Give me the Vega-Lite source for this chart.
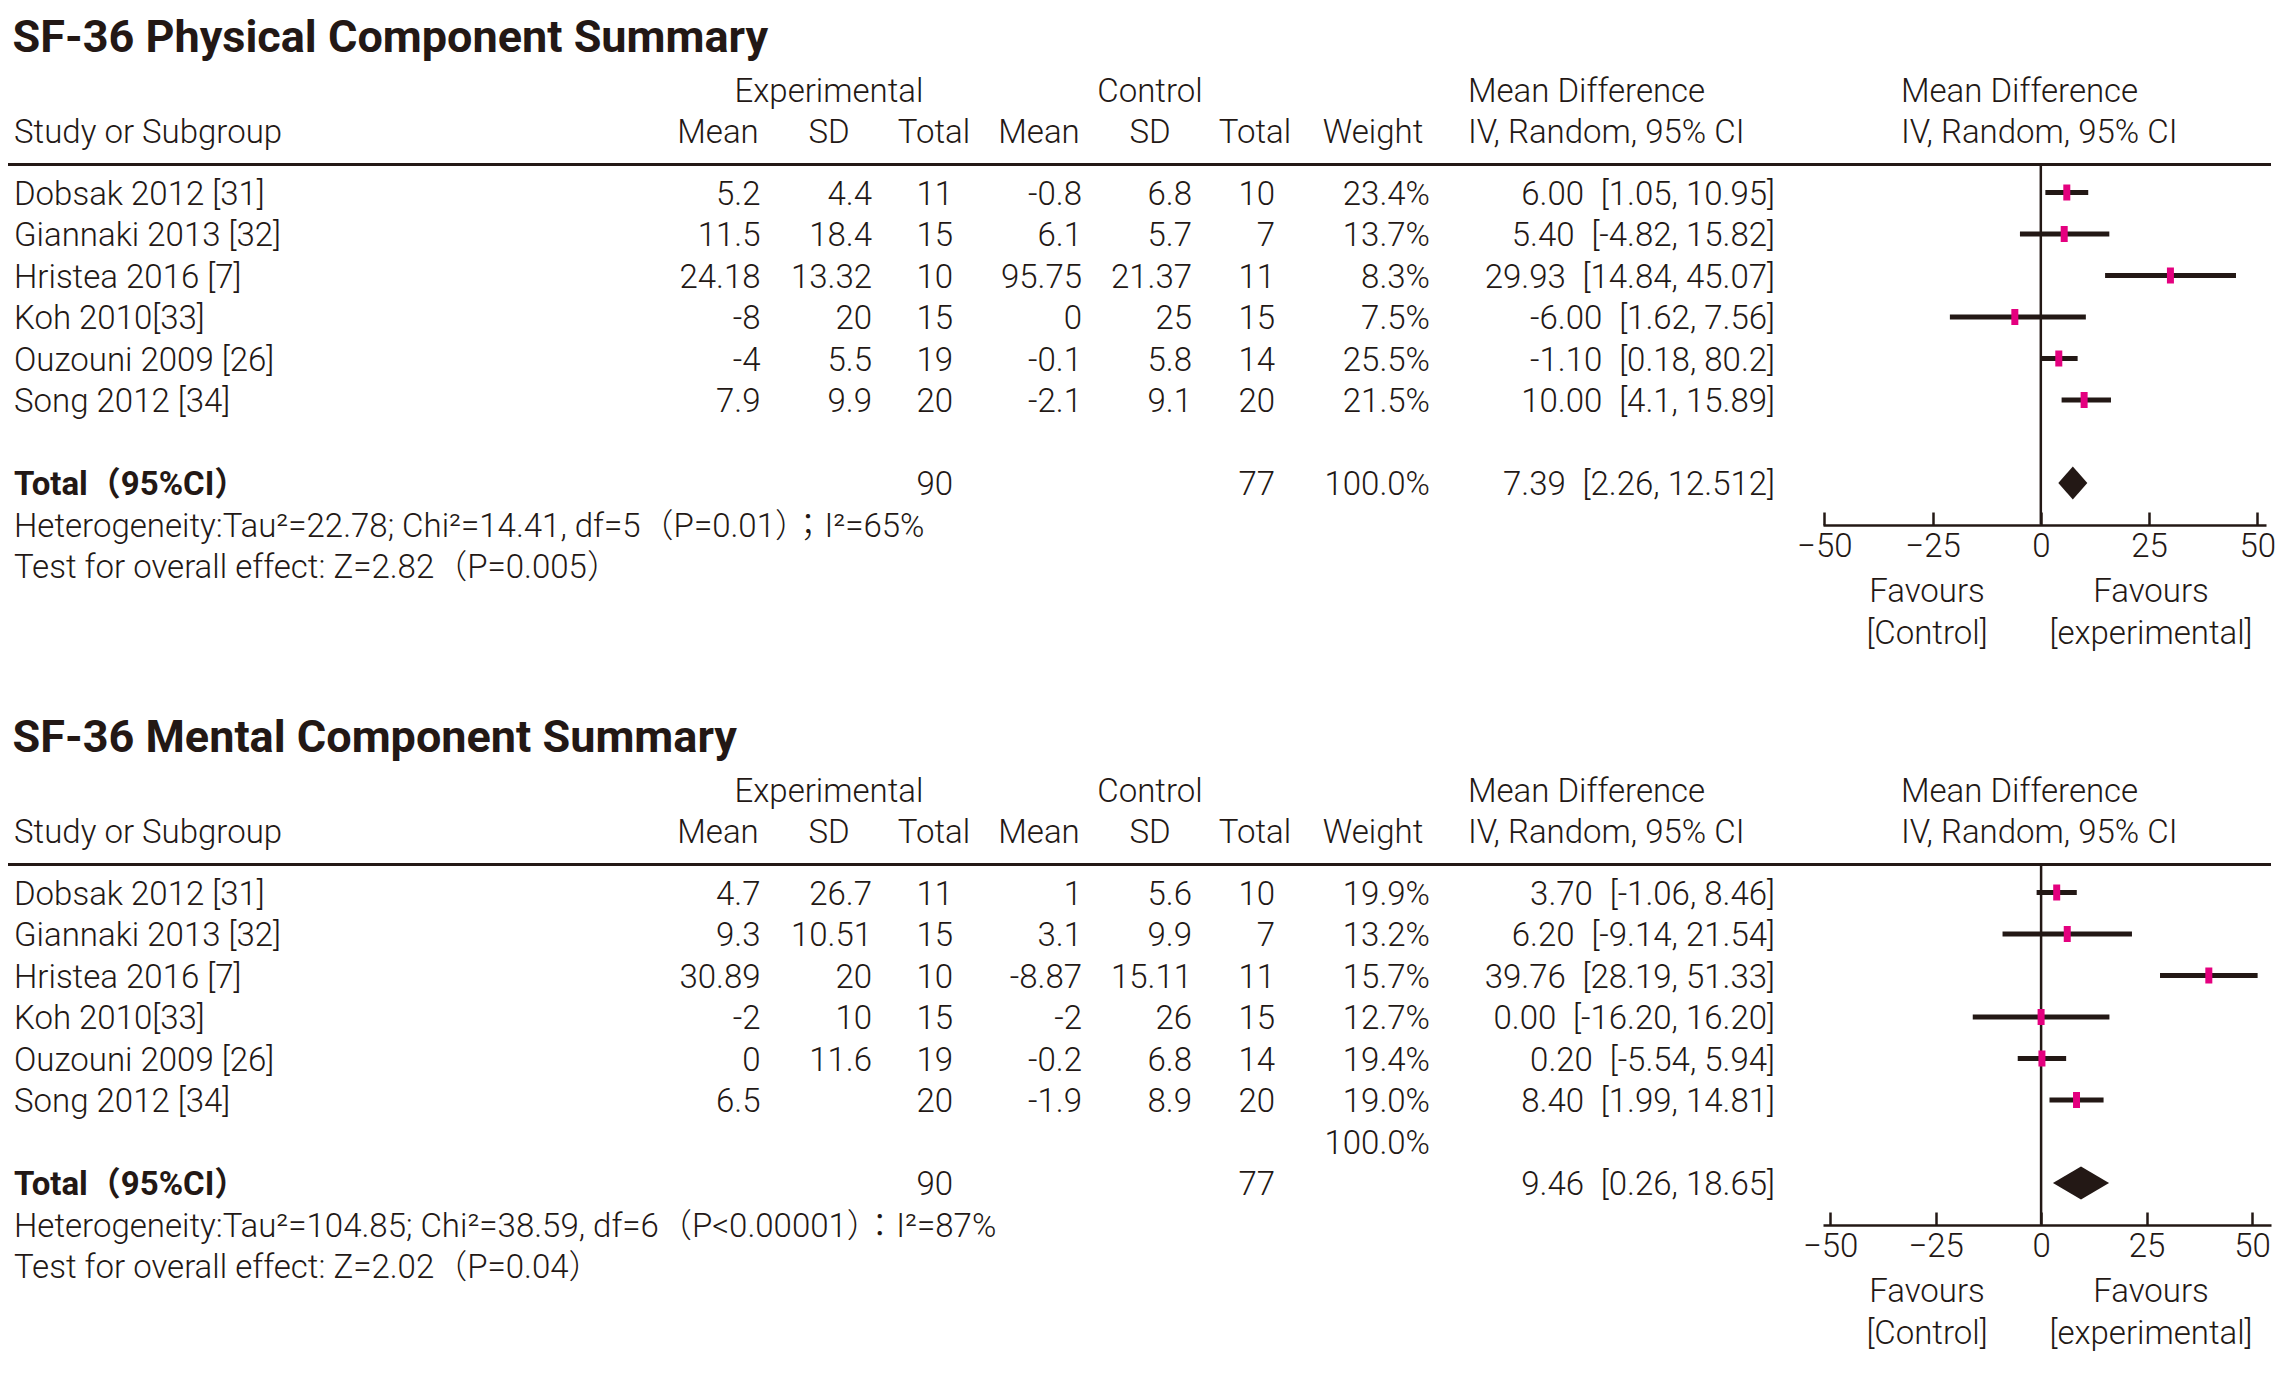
{
  "$schema": "https://vega.github.io/schema/vega-lite/v6.json",
  "background": "white",
  "padding": {"left": 6, "top": 16, "right": 0, "bottom": 0},
  "bounds": "flush",
  "spacing": 238,
  "config": {
    "view": {"stroke": null},
    "text": {"font": "Roboto, 'Noto Sans CJK JP', sans-serif", "fontSize": 33, "fontWeight": 300, "color": "#231815", "baseline": "middle", "dy": 2}
  },
  "datasets": {
    "headers": [
      {"row": 1, "col": 3, "label": "Experimental"},
      {"row": 1, "col": 6, "label": "Control"},
      {"row": 1, "col": 9, "label": "Mean Difference"},
      {"row": 1, "col": 10, "label": "Mean Difference"},
      {"row": 2, "col": 1, "label": "Study or Subgroup"},
      {"row": 2, "col": 2, "label": "Mean"},
      {"row": 2, "col": 3, "label": "SD"},
      {"row": 2, "col": 4, "label": "Total"},
      {"row": 2, "col": 5, "label": "Mean"},
      {"row": 2, "col": 6, "label": "SD"},
      {"row": 2, "col": 7, "label": "Total"},
      {"row": 2, "col": 8, "label": "Weight"},
      {"row": 2, "col": 9, "label": "IV, Random, 95% CI"},
      {"row": 2, "col": 10, "label": "IV, Random, 95% CI"}
    ],
    "favours": [
      {"side": -1, "label": "Favours\n[Control]"},
      {"side": 1, "label": "Favours\n[experimental]"}
    ],
    "pcs": [
      {"row": 3, "study": "Dobsak 2012 [31]", "e_mean": 5.2, "e_sd": 4.4, "e_n": 11, "c_mean": -0.8, "c_sd": 6.8, "c_n": 10, "weight": "23.4%", "md_label": "6.00\u2002[1.05, 10.95]", "md": 6.0, "lo": 1.05, "hi": 10.95},
      {"row": 4, "study": "Giannaki 2013 [32]", "e_mean": 11.5, "e_sd": 18.4, "e_n": 15, "c_mean": 6.1, "c_sd": 5.7, "c_n": 7, "weight": "13.7%", "md_label": "5.40\u2002[-4.82, 15.82]", "md": 5.4, "lo": -4.82, "hi": 15.82},
      {"row": 5, "study": "Hristea 2016 [7]", "e_mean": 24.18, "e_sd": 13.32, "e_n": 10, "c_mean": 95.75, "c_sd": 21.37, "c_n": 11, "weight": "8.3%", "md_label": "29.93\u2002[14.84, 45.07]", "md": 29.93, "lo": 14.84, "hi": 45.07},
      {"row": 6, "study": "Koh 2010[33]", "e_mean": -8, "e_sd": 20, "e_n": 15, "c_mean": 0, "c_sd": 25, "c_n": 15, "weight": "7.5%", "md_label": "-6.00\u2002[1.62, 7.56]", "md": -6.0, "lo": -21.0, "hi": 10.4},
      {"row": 7, "study": "Ouzouni 2009 [26]", "e_mean": -4, "e_sd": 5.5, "e_n": 19, "c_mean": -0.1, "c_sd": 5.8, "c_n": 14, "weight": "25.5%", "md_label": "-1.10\u2002[0.18, 80.2]", "md": 4.15, "lo": 0.2, "hi": 8.5},
      {"row": 8, "study": "Song 2012 [34]", "e_mean": 7.9, "e_sd": 9.9, "e_n": 20, "c_mean": -2.1, "c_sd": 9.1, "c_n": 20, "weight": "21.5%", "md_label": "10.00\u2002[4.1, 15.89]", "md": 10.0, "lo": 4.8, "hi": 16.2},
      {"row": 10, "summary": "Total（95%CI）", "e_n": 90, "c_n": 77, "weight": "100.0%", "md_label": "7.39\u2002[2.26, 12.512]", "md": 7.39}
    ],
    "pcs_notes": [
      {"row": 11, "label": "Heterogeneity:Tau²=22.78; Chi²=14.41, df=5（P=0.01）；I²=65%"},
      {"row": 12, "label": "Test for overall effect: Z=2.82（P=0.005）"}
    ],
    "mcs": [
      {"row": 3, "study": "Dobsak 2012 [31]", "e_mean": 4.7, "e_sd": 26.7, "e_n": 11, "c_mean": 1, "c_sd": 5.6, "c_n": 10, "weight": "19.9%", "md_label": "3.70\u2002[-1.06, 8.46]", "md": 3.7, "lo": -1.06, "hi": 8.46},
      {"row": 4, "study": "Giannaki 2013 [32]", "e_mean": 9.3, "e_sd": 10.51, "e_n": 15, "c_mean": 3.1, "c_sd": 9.9, "c_n": 7, "weight": "13.2%", "md_label": "6.20\u2002[-9.14, 21.54]", "md": 6.2, "lo": -9.14, "hi": 21.54},
      {"row": 5, "study": "Hristea 2016 [7]", "e_mean": 30.89, "e_sd": 20, "e_n": 10, "c_mean": -8.87, "c_sd": 15.11, "c_n": 11, "weight": "15.7%", "md_label": "39.76\u2002[28.19, 51.33]", "md": 39.76, "lo": 28.19, "hi": 51.33},
      {"row": 6, "study": "Koh 2010[33]", "e_mean": -2, "e_sd": 10, "e_n": 15, "c_mean": -2, "c_sd": 26, "c_n": 15, "weight": "12.7%", "md_label": "0.00\u2002[-16.20, 16.20]", "md": 0.0, "lo": -16.2, "hi": 16.2},
      {"row": 7, "study": "Ouzouni 2009 [26]", "e_mean": 0, "e_sd": 11.6, "e_n": 19, "c_mean": -0.2, "c_sd": 6.8, "c_n": 14, "weight": "19.4%", "md_label": "0.20\u2002[-5.54, 5.94]", "md": 0.2, "lo": -5.54, "hi": 5.94},
      {"row": 8, "study": "Song 2012 [34]", "e_mean": 6.5, "e_n": 20, "c_mean": -1.9, "c_sd": 8.9, "c_n": 20, "weight": "19.0%", "md_label": "8.40\u2002[1.99, 14.81]", "md": 8.4, "lo": 1.99, "hi": 14.81},
      {"row": 9, "weight": "100.0%"},
      {"row": 10, "summary": "Total（95%CI）", "e_n": 90, "c_n": 77, "md_label": "9.46\u2002[0.26, 18.65]", "md": 9.46}
    ],
    "mcs_notes": [
      {"row": 11, "label": "Heterogeneity:Tau²=104.85; Chi²=38.59, df=6（P<0.00001）：I²=87%"},
      {"row": 12, "label": "Test for overall effect: Z=2.02（P=0.04）"}
    ]
  },
  "vconcat": [
    {
      "title": {"text": "SF-36 Physical Component Summary", "anchor": "start", "dx": 6, "offset": -34, "baseline": "alphabetic", "font": "Roboto, sans-serif", "fontSize": 45, "fontWeight": "bold", "color": "#231815"},
      "width": 2263,
      "height": 462,
      "resolve": {"scale": {"x": "independent"}},
      "layer": [
        {"data": {"values": [{}]}, "mark": {"type": "rule", "strokeWidth": 3, "color": "#231815"},
         "encoding": {"y": {"datum": 2.55, "type": "quantitative", "scale": {"domain": [1, 2, 3, 12, 13], "range": [26.5, 67.5, 129.5, 503, 527], "zero": false, "nice": false}, "axis": null}}},
        {"data": {"values": [{}]}, "mark": {"type": "rule", "strokeWidth": 2.5, "color": "#231815"},
         "encoding": {
           "x": {"datum": 0, "type": "quantitative", "scale": {"domain": [-50.3, 52], "range": [1815, 2258], "zero": false, "nice": false},
                 "axis": {"orient": "bottom", "values": [-50, -25, 0, 25, 50], "tickSize": -13, "tickWidth": 2.5, "tickColor": "#231815", "domainColor": "#231815", "domainWidth": 2.7, "labelFont": "Roboto, sans-serif", "labelFontSize": 33, "labelFontWeight": 300, "labelColor": "#231815", "labelPadding": 18, "labelFlush": false, "labelOverlap": false, "grid": false, "title": null}},
           "y": {"datum": 2.55, "type": "quantitative", "scale": {"domain": [1, 2, 3, 12, 13], "range": [26.5, 67.5, 129.5, 503, 527], "zero": false, "nice": false}, "axis": null},
           "y2": {"datum": 11}
         }},
        {"data": {"name": "pcs"}, "transform": [{"filter": {"field": "lo", "valid": true}}],
         "mark": {"type": "rule", "strokeWidth": 5, "color": "#231815"},
         "encoding": {
           "x": {"field": "lo", "type": "quantitative", "scale": {"domain": [-50.3, 52], "range": [1815, 2258], "zero": false, "nice": false}, "axis": null},
           "x2": {"field": "hi"},
           "y": {"field": "row", "type": "quantitative", "scale": {"domain": [1, 2, 3, 12, 13], "range": [26.5, 67.5, 129.5, 503, 527], "zero": false, "nice": false}, "axis": null}
         }},
        {"data": {"name": "pcs"}, "transform": [{"filter": "isValid(datum.study)"}],
         "mark": {"type": "tick", "orient": "vertical", "size": 16, "thickness": 7, "color": "#e4007f", "opacity": 1},
         "encoding": {
           "x": {"field": "md", "type": "quantitative", "scale": {"domain": [-50.3, 52], "range": [1815, 2258], "zero": false, "nice": false}, "axis": null},
           "y": {"field": "row", "type": "quantitative", "scale": {"domain": [1, 2, 3, 12, 13], "range": [26.5, 67.5, 129.5, 503, 527], "zero": false, "nice": false}, "axis": null}
         }},
        {"data": {"name": "pcs"}, "transform": [{"filter": "isValid(datum.summary)"}],
         "mark": {"type": "point", "filled": true, "shape": "M0,-1L0.88,0L0,1L-0.88,0Z", "size": 1089, "color": "#231815", "opacity": 1},
         "encoding": {
           "x": {"field": "md", "type": "quantitative", "scale": {"domain": [-50.3, 52], "range": [1815, 2258], "zero": false, "nice": false}, "axis": null},
           "y": {"field": "row", "type": "quantitative", "scale": {"domain": [1, 2, 3, 12, 13], "range": [26.5, 67.5, 129.5, 503, 527], "zero": false, "nice": false}, "axis": null}
         }},
        {"data": {"name": "headers"}, "transform": [{"filter": "datum.col >= 2 && datum.col <= 8"}],
         "mark": {"type": "text", "align": "center"},
         "encoding": {
           "x": {"field": "col", "type": "quantitative", "scale": {"domain": [2, 3, 4, 5, 6, 7, 8], "range": [710, 821, 926, 1031, 1142, 1247, 1365], "zero": false, "nice": false}, "axis": null},
           "y": {"field": "row", "type": "quantitative", "scale": {"domain": [1, 2, 3, 12, 13], "range": [26.5, 67.5, 129.5, 503, 527], "zero": false, "nice": false}, "axis": null},
           "text": {"field": "label", "type": "nominal"}
         }},
        {"data": {"name": "headers"}, "transform": [{"filter": "datum.col == 1 || datum.col >= 9"}],
         "mark": {"type": "text", "align": "left"},
         "encoding": {
           "x": {"field": "col", "type": "quantitative", "scale": {"domain": [1, 9, 10], "range": [6, 1460, 1893], "zero": false, "nice": false}, "axis": null},
           "y": {"field": "row", "type": "quantitative", "scale": {"domain": [1, 2, 3, 12, 13], "range": [26.5, 67.5, 129.5, 503, 527], "zero": false, "nice": false}, "axis": null},
           "text": {"field": "label", "type": "nominal"}
         }},
        {"data": {"name": "pcs"}, "transform": [{"filter": "isValid(datum.study)"}],
         "mark": {"type": "text", "align": "left"},
         "encoding": {
           "x": {"datum": 1, "type": "quantitative", "scale": {"domain": [1, 9, 10], "range": [6, 1460, 1893], "zero": false, "nice": false}, "axis": null},
           "y": {"field": "row", "type": "quantitative", "scale": {"domain": [1, 2, 3, 12, 13], "range": [26.5, 67.5, 129.5, 503, 527], "zero": false, "nice": false}, "axis": null},
           "text": {"field": "study", "type": "nominal"}
         }},
        {"data": {"name": "pcs"}, "transform": [{"filter": "isValid(datum.summary)"}],
         "mark": {"type": "text", "align": "left", "fontWeight": "bold"},
         "encoding": {
           "x": {"datum": 1, "type": "quantitative", "scale": {"domain": [1, 9, 10], "range": [6, 1460, 1893], "zero": false, "nice": false}, "axis": null},
           "y": {"field": "row", "type": "quantitative", "scale": {"domain": [1, 2, 3, 12, 13], "range": [26.5, 67.5, 129.5, 503, 527], "zero": false, "nice": false}, "axis": null},
           "text": {"field": "summary", "type": "nominal"}
         }},
        {"data": {"name": "pcs"}, "transform": [{"filter": {"field": "e_mean", "valid": true}}],
         "mark": {"type": "text", "align": "right"},
         "encoding": {
           "x": {"datum": 2, "type": "quantitative", "scale": {"domain": [2, 3, 4, 5, 6, 7, 8, 9], "range": [752.5, 864, 945, 1074, 1184, 1267, 1422, 1767], "zero": false, "nice": false}, "axis": null},
           "y": {"field": "row", "type": "quantitative", "scale": {"domain": [1, 2, 3, 12, 13], "range": [26.5, 67.5, 129.5, 503, 527], "zero": false, "nice": false}, "axis": null},
           "text": {"field": "e_mean", "type": "nominal"}
         }},
        {"data": {"name": "pcs"}, "transform": [{"filter": {"field": "e_sd", "valid": true}}],
         "mark": {"type": "text", "align": "right"},
         "encoding": {
           "x": {"datum": 3, "type": "quantitative", "scale": {"domain": [2, 3, 4, 5, 6, 7, 8, 9], "range": [752.5, 864, 945, 1074, 1184, 1267, 1422, 1767], "zero": false, "nice": false}, "axis": null},
           "y": {"field": "row", "type": "quantitative", "scale": {"domain": [1, 2, 3, 12, 13], "range": [26.5, 67.5, 129.5, 503, 527], "zero": false, "nice": false}, "axis": null},
           "text": {"field": "e_sd", "type": "nominal"}
         }},
        {"data": {"name": "pcs"}, "transform": [{"filter": {"field": "e_n", "valid": true}}],
         "mark": {"type": "text", "align": "right"},
         "encoding": {
           "x": {"datum": 4, "type": "quantitative", "scale": {"domain": [2, 3, 4, 5, 6, 7, 8, 9], "range": [752.5, 864, 945, 1074, 1184, 1267, 1422, 1767], "zero": false, "nice": false}, "axis": null},
           "y": {"field": "row", "type": "quantitative", "scale": {"domain": [1, 2, 3, 12, 13], "range": [26.5, 67.5, 129.5, 503, 527], "zero": false, "nice": false}, "axis": null},
           "text": {"field": "e_n", "type": "nominal"}
         }},
        {"data": {"name": "pcs"}, "transform": [{"filter": {"field": "c_mean", "valid": true}}],
         "mark": {"type": "text", "align": "right"},
         "encoding": {
           "x": {"datum": 5, "type": "quantitative", "scale": {"domain": [2, 3, 4, 5, 6, 7, 8, 9], "range": [752.5, 864, 945, 1074, 1184, 1267, 1422, 1767], "zero": false, "nice": false}, "axis": null},
           "y": {"field": "row", "type": "quantitative", "scale": {"domain": [1, 2, 3, 12, 13], "range": [26.5, 67.5, 129.5, 503, 527], "zero": false, "nice": false}, "axis": null},
           "text": {"field": "c_mean", "type": "nominal"}
         }},
        {"data": {"name": "pcs"}, "transform": [{"filter": {"field": "c_sd", "valid": true}}],
         "mark": {"type": "text", "align": "right"},
         "encoding": {
           "x": {"datum": 6, "type": "quantitative", "scale": {"domain": [2, 3, 4, 5, 6, 7, 8, 9], "range": [752.5, 864, 945, 1074, 1184, 1267, 1422, 1767], "zero": false, "nice": false}, "axis": null},
           "y": {"field": "row", "type": "quantitative", "scale": {"domain": [1, 2, 3, 12, 13], "range": [26.5, 67.5, 129.5, 503, 527], "zero": false, "nice": false}, "axis": null},
           "text": {"field": "c_sd", "type": "nominal"}
         }},
        {"data": {"name": "pcs"}, "transform": [{"filter": {"field": "c_n", "valid": true}}],
         "mark": {"type": "text", "align": "right"},
         "encoding": {
           "x": {"datum": 7, "type": "quantitative", "scale": {"domain": [2, 3, 4, 5, 6, 7, 8, 9], "range": [752.5, 864, 945, 1074, 1184, 1267, 1422, 1767], "zero": false, "nice": false}, "axis": null},
           "y": {"field": "row", "type": "quantitative", "scale": {"domain": [1, 2, 3, 12, 13], "range": [26.5, 67.5, 129.5, 503, 527], "zero": false, "nice": false}, "axis": null},
           "text": {"field": "c_n", "type": "nominal"}
         }},
        {"data": {"name": "pcs"}, "transform": [{"filter": "isValid(datum.weight)"}],
         "mark": {"type": "text", "align": "right"},
         "encoding": {
           "x": {"datum": 8, "type": "quantitative", "scale": {"domain": [2, 3, 4, 5, 6, 7, 8, 9], "range": [752.5, 864, 945, 1074, 1184, 1267, 1422, 1767], "zero": false, "nice": false}, "axis": null},
           "y": {"field": "row", "type": "quantitative", "scale": {"domain": [1, 2, 3, 12, 13], "range": [26.5, 67.5, 129.5, 503, 527], "zero": false, "nice": false}, "axis": null},
           "text": {"field": "weight", "type": "nominal"}
         }},
        {"data": {"name": "pcs"}, "transform": [{"filter": "isValid(datum.md_label)"}],
         "mark": {"type": "text", "align": "right"},
         "encoding": {
           "x": {"datum": 9, "type": "quantitative", "scale": {"domain": [2, 3, 4, 5, 6, 7, 8, 9], "range": [752.5, 864, 945, 1074, 1184, 1267, 1422, 1767], "zero": false, "nice": false}, "axis": null},
           "y": {"field": "row", "type": "quantitative", "scale": {"domain": [1, 2, 3, 12, 13], "range": [26.5, 67.5, 129.5, 503, 527], "zero": false, "nice": false}, "axis": null},
           "text": {"field": "md_label", "type": "nominal"}
         }},
        {"data": {"name": "pcs_notes"},
         "mark": {"type": "text", "align": "left"},
         "encoding": {
           "x": {"datum": 1, "type": "quantitative", "scale": {"domain": [1, 9, 10], "range": [6, 1460, 1893], "zero": false, "nice": false}, "axis": null},
           "y": {"field": "row", "type": "quantitative", "scale": {"domain": [1, 2, 3, 12, 13], "range": [26.5, 67.5, 129.5, 503, 527], "zero": false, "nice": false}, "axis": null},
           "text": {"field": "label", "type": "nominal"}
         }},
        {"data": {"name": "favours"},
         "mark": {"type": "text", "align": "center", "lineBreak": "\n", "lineHeight": 41.5},
         "encoding": {
           "x": {"field": "side", "type": "quantitative", "scale": {"domain": [-1, 1], "range": [1919, 2143], "zero": false, "nice": false}, "axis": null},
           "y": {"datum": 13, "type": "quantitative", "scale": {"domain": [1, 2, 3, 12, 13], "range": [26.5, 67.5, 129.5, 503, 527], "zero": false, "nice": false}, "axis": null},
           "text": {"field": "label", "type": "nominal"}
         }}
      ]
    },
    {
      "title": {"text": "SF-36 Mental Component Summary", "anchor": "start", "dx": 6, "offset": -34, "baseline": "alphabetic", "font": "Roboto, sans-serif", "fontSize": 45, "fontWeight": "bold", "color": "#231815"},
      "width": 2263,
      "height": 462,
      "resolve": {"scale": {"x": "independent"}},
      "layer": [
        {"data": {"values": [{}]}, "mark": {"type": "rule", "strokeWidth": 3, "color": "#231815"},
         "encoding": {"y": {"datum": 2.55, "type": "quantitative", "scale": {"domain": [1, 2, 3, 12, 13], "range": [26.5, 67.5, 129.5, 503, 527], "zero": false, "nice": false}, "axis": null}}},
        {"data": {"values": [{}]}, "mark": {"type": "rule", "strokeWidth": 2.5, "color": "#231815"},
         "encoding": {
           "x": {"datum": 0, "type": "quantitative", "scale": {"domain": [-51.7, 54.5], "range": [1815, 2263], "zero": false, "nice": false},
                 "axis": {"orient": "bottom", "values": [-50, -25, 0, 25, 50], "tickSize": -13, "tickWidth": 2.5, "tickColor": "#231815", "domainColor": "#231815", "domainWidth": 2.7, "labelFont": "Roboto, sans-serif", "labelFontSize": 33, "labelFontWeight": 300, "labelColor": "#231815", "labelPadding": 18, "labelFlush": false, "labelOverlap": false, "grid": false, "title": null}},
           "y": {"datum": 2.55, "type": "quantitative", "scale": {"domain": [1, 2, 3, 12, 13], "range": [26.5, 67.5, 129.5, 503, 527], "zero": false, "nice": false}, "axis": null},
           "y2": {"datum": 11}
         }},
        {"data": {"name": "mcs"}, "transform": [{"filter": {"field": "lo", "valid": true}}],
         "mark": {"type": "rule", "strokeWidth": 5, "color": "#231815"},
         "encoding": {
           "x": {"field": "lo", "type": "quantitative", "scale": {"domain": [-51.7, 54.5], "range": [1815, 2263], "zero": false, "nice": false}, "axis": null},
           "x2": {"field": "hi"},
           "y": {"field": "row", "type": "quantitative", "scale": {"domain": [1, 2, 3, 12, 13], "range": [26.5, 67.5, 129.5, 503, 527], "zero": false, "nice": false}, "axis": null}
         }},
        {"data": {"name": "mcs"}, "transform": [{"filter": "isValid(datum.study)"}],
         "mark": {"type": "tick", "orient": "vertical", "size": 16, "thickness": 7, "color": "#e4007f", "opacity": 1},
         "encoding": {
           "x": {"field": "md", "type": "quantitative", "scale": {"domain": [-51.7, 54.5], "range": [1815, 2263], "zero": false, "nice": false}, "axis": null},
           "y": {"field": "row", "type": "quantitative", "scale": {"domain": [1, 2, 3, 12, 13], "range": [26.5, 67.5, 129.5, 503, 527], "zero": false, "nice": false}, "axis": null}
         }},
        {"data": {"name": "mcs"}, "transform": [{"filter": "isValid(datum.summary)"}],
         "mark": {"type": "point", "filled": true, "shape": "M0,-1L1.7,0L0,1L-1.7,0Z", "size": 1089, "color": "#231815", "opacity": 1},
         "encoding": {
           "x": {"field": "md", "type": "quantitative", "scale": {"domain": [-51.7, 54.5], "range": [1815, 2263], "zero": false, "nice": false}, "axis": null},
           "y": {"field": "row", "type": "quantitative", "scale": {"domain": [1, 2, 3, 12, 13], "range": [26.5, 67.5, 129.5, 503, 527], "zero": false, "nice": false}, "axis": null}
         }},
        {"data": {"name": "headers"}, "transform": [{"filter": "datum.col >= 2 && datum.col <= 8"}],
         "mark": {"type": "text", "align": "center"},
         "encoding": {
           "x": {"field": "col", "type": "quantitative", "scale": {"domain": [2, 3, 4, 5, 6, 7, 8], "range": [710, 821, 926, 1031, 1142, 1247, 1365], "zero": false, "nice": false}, "axis": null},
           "y": {"field": "row", "type": "quantitative", "scale": {"domain": [1, 2, 3, 12, 13], "range": [26.5, 67.5, 129.5, 503, 527], "zero": false, "nice": false}, "axis": null},
           "text": {"field": "label", "type": "nominal"}
         }},
        {"data": {"name": "headers"}, "transform": [{"filter": "datum.col == 1 || datum.col >= 9"}],
         "mark": {"type": "text", "align": "left"},
         "encoding": {
           "x": {"field": "col", "type": "quantitative", "scale": {"domain": [1, 9, 10], "range": [6, 1460, 1893], "zero": false, "nice": false}, "axis": null},
           "y": {"field": "row", "type": "quantitative", "scale": {"domain": [1, 2, 3, 12, 13], "range": [26.5, 67.5, 129.5, 503, 527], "zero": false, "nice": false}, "axis": null},
           "text": {"field": "label", "type": "nominal"}
         }},
        {"data": {"name": "mcs"}, "transform": [{"filter": "isValid(datum.study)"}],
         "mark": {"type": "text", "align": "left"},
         "encoding": {
           "x": {"datum": 1, "type": "quantitative", "scale": {"domain": [1, 9, 10], "range": [6, 1460, 1893], "zero": false, "nice": false}, "axis": null},
           "y": {"field": "row", "type": "quantitative", "scale": {"domain": [1, 2, 3, 12, 13], "range": [26.5, 67.5, 129.5, 503, 527], "zero": false, "nice": false}, "axis": null},
           "text": {"field": "study", "type": "nominal"}
         }},
        {"data": {"name": "mcs"}, "transform": [{"filter": "isValid(datum.summary)"}],
         "mark": {"type": "text", "align": "left", "fontWeight": "bold"},
         "encoding": {
           "x": {"datum": 1, "type": "quantitative", "scale": {"domain": [1, 9, 10], "range": [6, 1460, 1893], "zero": false, "nice": false}, "axis": null},
           "y": {"field": "row", "type": "quantitative", "scale": {"domain": [1, 2, 3, 12, 13], "range": [26.5, 67.5, 129.5, 503, 527], "zero": false, "nice": false}, "axis": null},
           "text": {"field": "summary", "type": "nominal"}
         }},
        {"data": {"name": "mcs"}, "transform": [{"filter": {"field": "e_mean", "valid": true}}],
         "mark": {"type": "text", "align": "right"},
         "encoding": {
           "x": {"datum": 2, "type": "quantitative", "scale": {"domain": [2, 3, 4, 5, 6, 7, 8, 9], "range": [752.5, 864, 945, 1074, 1184, 1267, 1422, 1767], "zero": false, "nice": false}, "axis": null},
           "y": {"field": "row", "type": "quantitative", "scale": {"domain": [1, 2, 3, 12, 13], "range": [26.5, 67.5, 129.5, 503, 527], "zero": false, "nice": false}, "axis": null},
           "text": {"field": "e_mean", "type": "nominal"}
         }},
        {"data": {"name": "mcs"}, "transform": [{"filter": {"field": "e_sd", "valid": true}}],
         "mark": {"type": "text", "align": "right"},
         "encoding": {
           "x": {"datum": 3, "type": "quantitative", "scale": {"domain": [2, 3, 4, 5, 6, 7, 8, 9], "range": [752.5, 864, 945, 1074, 1184, 1267, 1422, 1767], "zero": false, "nice": false}, "axis": null},
           "y": {"field": "row", "type": "quantitative", "scale": {"domain": [1, 2, 3, 12, 13], "range": [26.5, 67.5, 129.5, 503, 527], "zero": false, "nice": false}, "axis": null},
           "text": {"field": "e_sd", "type": "nominal"}
         }},
        {"data": {"name": "mcs"}, "transform": [{"filter": {"field": "e_n", "valid": true}}],
         "mark": {"type": "text", "align": "right"},
         "encoding": {
           "x": {"datum": 4, "type": "quantitative", "scale": {"domain": [2, 3, 4, 5, 6, 7, 8, 9], "range": [752.5, 864, 945, 1074, 1184, 1267, 1422, 1767], "zero": false, "nice": false}, "axis": null},
           "y": {"field": "row", "type": "quantitative", "scale": {"domain": [1, 2, 3, 12, 13], "range": [26.5, 67.5, 129.5, 503, 527], "zero": false, "nice": false}, "axis": null},
           "text": {"field": "e_n", "type": "nominal"}
         }},
        {"data": {"name": "mcs"}, "transform": [{"filter": {"field": "c_mean", "valid": true}}],
         "mark": {"type": "text", "align": "right"},
         "encoding": {
           "x": {"datum": 5, "type": "quantitative", "scale": {"domain": [2, 3, 4, 5, 6, 7, 8, 9], "range": [752.5, 864, 945, 1074, 1184, 1267, 1422, 1767], "zero": false, "nice": false}, "axis": null},
           "y": {"field": "row", "type": "quantitative", "scale": {"domain": [1, 2, 3, 12, 13], "range": [26.5, 67.5, 129.5, 503, 527], "zero": false, "nice": false}, "axis": null},
           "text": {"field": "c_mean", "type": "nominal"}
         }},
        {"data": {"name": "mcs"}, "transform": [{"filter": {"field": "c_sd", "valid": true}}],
         "mark": {"type": "text", "align": "right"},
         "encoding": {
           "x": {"datum": 6, "type": "quantitative", "scale": {"domain": [2, 3, 4, 5, 6, 7, 8, 9], "range": [752.5, 864, 945, 1074, 1184, 1267, 1422, 1767], "zero": false, "nice": false}, "axis": null},
           "y": {"field": "row", "type": "quantitative", "scale": {"domain": [1, 2, 3, 12, 13], "range": [26.5, 67.5, 129.5, 503, 527], "zero": false, "nice": false}, "axis": null},
           "text": {"field": "c_sd", "type": "nominal"}
         }},
        {"data": {"name": "mcs"}, "transform": [{"filter": {"field": "c_n", "valid": true}}],
         "mark": {"type": "text", "align": "right"},
         "encoding": {
           "x": {"datum": 7, "type": "quantitative", "scale": {"domain": [2, 3, 4, 5, 6, 7, 8, 9], "range": [752.5, 864, 945, 1074, 1184, 1267, 1422, 1767], "zero": false, "nice": false}, "axis": null},
           "y": {"field": "row", "type": "quantitative", "scale": {"domain": [1, 2, 3, 12, 13], "range": [26.5, 67.5, 129.5, 503, 527], "zero": false, "nice": false}, "axis": null},
           "text": {"field": "c_n", "type": "nominal"}
         }},
        {"data": {"name": "mcs"}, "transform": [{"filter": "isValid(datum.weight)"}],
         "mark": {"type": "text", "align": "right"},
         "encoding": {
           "x": {"datum": 8, "type": "quantitative", "scale": {"domain": [2, 3, 4, 5, 6, 7, 8, 9], "range": [752.5, 864, 945, 1074, 1184, 1267, 1422, 1767], "zero": false, "nice": false}, "axis": null},
           "y": {"field": "row", "type": "quantitative", "scale": {"domain": [1, 2, 3, 12, 13], "range": [26.5, 67.5, 129.5, 503, 527], "zero": false, "nice": false}, "axis": null},
           "text": {"field": "weight", "type": "nominal"}
         }},
        {"data": {"name": "mcs"}, "transform": [{"filter": "isValid(datum.md_label)"}],
         "mark": {"type": "text", "align": "right"},
         "encoding": {
           "x": {"datum": 9, "type": "quantitative", "scale": {"domain": [2, 3, 4, 5, 6, 7, 8, 9], "range": [752.5, 864, 945, 1074, 1184, 1267, 1422, 1767], "zero": false, "nice": false}, "axis": null},
           "y": {"field": "row", "type": "quantitative", "scale": {"domain": [1, 2, 3, 12, 13], "range": [26.5, 67.5, 129.5, 503, 527], "zero": false, "nice": false}, "axis": null},
           "text": {"field": "md_label", "type": "nominal"}
         }},
        {"data": {"name": "mcs_notes"},
         "mark": {"type": "text", "align": "left"},
         "encoding": {
           "x": {"datum": 1, "type": "quantitative", "scale": {"domain": [1, 9, 10], "range": [6, 1460, 1893], "zero": false, "nice": false}, "axis": null},
           "y": {"field": "row", "type": "quantitative", "scale": {"domain": [1, 2, 3, 12, 13], "range": [26.5, 67.5, 129.5, 503, 527], "zero": false, "nice": false}, "axis": null},
           "text": {"field": "label", "type": "nominal"}
         }},
        {"data": {"name": "favours"},
         "mark": {"type": "text", "align": "center", "lineBreak": "\n", "lineHeight": 41.5},
         "encoding": {
           "x": {"field": "side", "type": "quantitative", "scale": {"domain": [-1, 1], "range": [1919, 2143], "zero": false, "nice": false}, "axis": null},
           "y": {"datum": 13, "type": "quantitative", "scale": {"domain": [1, 2, 3, 12, 13], "range": [26.5, 67.5, 129.5, 503, 527], "zero": false, "nice": false}, "axis": null},
           "text": {"field": "label", "type": "nominal"}
         }}
      ]
    }
  ]
}
